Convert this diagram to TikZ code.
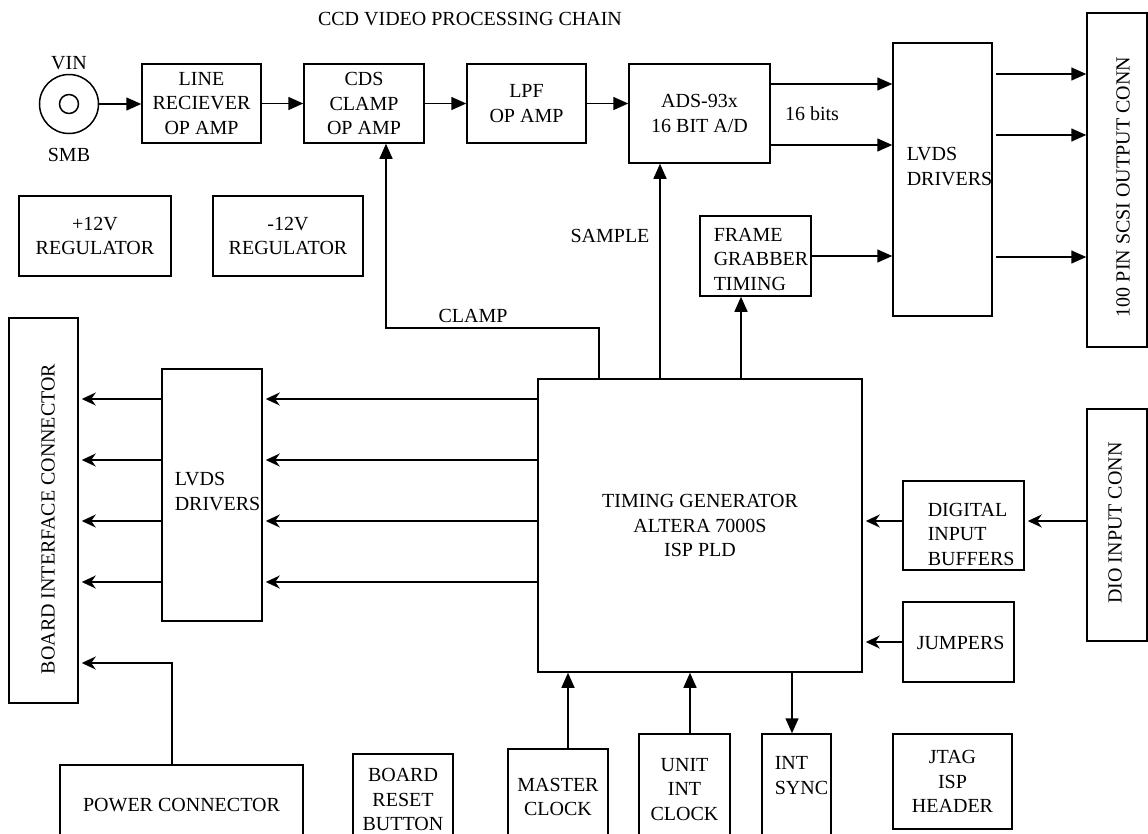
\documentclass[tikz,border=0pt]{standalone}
\usepackage{fontspec}
\setmainfont{Liberation Serif}
\usetikzlibrary{arrows.meta}
\newcommand{\blkfont}{\fontsize{20}{24.5}\selectfont}

\begin{document}
\begin{tikzpicture}[x=1pt, y=-1pt, line width=1.5pt,
    blk/.style={draw, inner sep=0pt, align=center, font=\blkfont},
    txt/.style={inner sep=0pt, align=left, font=\blkfont},
    tri/.style={-{Triangle[length=15pt, width=13pt]}},
    stl/.style={-{Stealth[length=14pt, width=13pt, inset=4.5pt]}, shorten >=3pt}]
  \useasboundingbox (0,0) rectangle (1148,833);
  \clip (0,0) rectangle (1148,833);

  \node[txt] (title) at (470,19) {CCD VIDEO PROCESSING CHAIN};

  \node[draw, circle, minimum size=59pt, inner sep=0pt] (vin) at (69,104) {};
  \node[draw, circle, minimum size=19pt, inner sep=0pt] (vinpin) at (69,104) {};
  \node[txt] (vintxt) at (69,63) {VIN};
  \node[txt] (smbtxt) at (69,155) {SMB};

  \node[blk, minimum width=119pt, minimum height=79pt] (line) at (201.5,103.5) {LINE\\RECIEVER\\OP AMP};
  \node[blk, minimum width=120pt, minimum height=79pt] (cds) at (364,103.5) {CDS\\CLAMP\\OP AMP};
  \node[blk, minimum width=119pt, minimum height=79pt] (lpf) at (526.5,103.5) {LPF\\OP AMP};
  \node[blk, minimum width=141pt, minimum height=99pt] (ads) at (699.5,113.5) {ADS-93x\\16 BIT A/D};
  \node[txt] (bitstxt) at (812,114) {16 bits};

  \node[blk, minimum width=152pt, minimum height=80pt] (regp) at (95,236) {+12V\\REGULATOR};
  \node[blk, minimum width=150pt, minimum height=80pt] (regn) at (288,236) {-12V\\REGULATOR};

  \node[blk, minimum width=99pt, minimum height=273pt] (lvdsr) at (942.5,179.5) {};
  \node[txt, anchor=west] (lvdsrtxt) at (906,166.5) {LVDS\\DRIVERS};
  \node[blk, minimum width=111pt, minimum height=80pt] (fg) at (755.5,256) {};
  \node[txt, anchor=west] (fgtxt) at (713,259) {FRAME\\GRABBER\\TIMING};
  \node[blk, minimum width=60pt, minimum height=334pt] (scsi) at (1117,180) {};
  \node[txt, rotate=90] (scsitxt) at (1123,187) {100 PIN SCSI OUTPUT CONN};
  \node[txt] (sampletxt) at (610,236) {SAMPLE};
  \node[txt] (clamptxt) at (473,316) {CLAMP};

  \node[blk, minimum width=69pt, minimum height=385pt] (bic) at (43.5,510.5) {};
  \node[txt, rotate=90] (bictxt) at (48,519) {BOARD INTERFACE CONNECTOR};
  \node[blk, minimum width=100pt, minimum height=252pt] (lvdsl) at (212,495) {};
  \node[txt, anchor=west] (lvdsltxt) at (174,491.5) {LVDS\\DRIVERS};
  \node[blk, minimum width=324pt, minimum height=293pt] (tg) at (700,525.5) {TIMING GENERATOR\\ALTERA 7000S\\ISP PLD};
  \node[blk, minimum width=121pt, minimum height=89pt] (dib) at (963.5,525.5) {};
  \node[txt, anchor=west] (dibtxt) at (927,534) {DIGITAL\\INPUT\\BUFFERS};
  \node[blk, minimum width=111pt, minimum height=80pt] (jump) at (958.5,642) {};
  \node[txt, anchor=west] (jumptxt) at (916,643) {JUMPERS};
  \node[blk, minimum width=60pt, minimum height=232pt] (dio) at (1117,525) {};
  \node[txt, rotate=90] (diotxt) at (1115,523) {DIO INPUT CONN};

  \node[blk, minimum width=243pt, minimum height=80pt] (pc) at (181.5,805) {POWER CONNECTOR};
  \node[blk, minimum width=100pt, minimum height=91pt] (reset) at (403,799.5) {BOARD\\RESET\\BUTTON};
  \node[blk, minimum width=100pt, minimum height=96pt] (master) at (558,797) {MASTER\\CLOCK};
  \node[blk, minimum width=91pt, minimum height=111pt] (unit) at (684.5,789.5) {UNIT\\INT\\CLOCK};
  \node[blk, minimum width=69pt, minimum height=111pt] (sync) at (796.5,789.5) {};
  \node[txt, anchor=west] (synctxt) at (774,775.5) {INT\\SYNC};
  \node[blk, minimum width=119pt, minimum height=95pt] (jtag) at (952.5,781.5) {JTAG\\ISP\\HEADER};

  \draw[tri] (vin.east) -- (vin.east -| line.west);
  \draw[tri] (line.east) -- (cds.west);
  \draw[tri] (cds.east) -- (lpf.west);
  \draw[tri] (lpf.east) -- (lpf.east -| ads.west);
  \foreach \y in {84,145}
    \draw[tri] (ads.east |- 0,\y) -- (lvdsr.west |- 0,\y);
  \draw[tri] (fg.east) -- (fg.east -| lvdsr.west);
  \foreach \y in {74,135,257}
    \draw[tri] ([xshift=3pt]lvdsr.east |- 0,\y) -- (scsi.west |- 0,\y);

  \coordinate (clampc) at (386,328);
  \draw[tri] (tg.north -| 599,0) |- (clampc) -- (clampc |- cds.south);
  \draw[tri] (tg.north -| 660,0) -- (ads.south -| 660,0);
  \draw[tri] (tg.north -| 741,0) -- (fg.south -| 741,0);

  \foreach \y in {399,460,521,582} {
    \draw[stl] (tg.west |- 0,\y) -- (lvdsl.east |- 0,\y);
    \draw[stl] (lvdsl.west |- 0,\y) -- (bic.east |- 0,\y);
  }
  \draw[stl] (pc.north -| 172,0) |- (bic.east |- 0,663);
  \draw[stl] (dio.west |- 0,521) -- (dib.east |- 0,521);
  \draw[stl] (dib.west |- 0,521) -- (tg.east |- 0,521);
  \draw[stl] (jump.west) -- (jump.west -| tg.east);

  \draw[tri] (master.north -| 568,0) -- (tg.south -| 568,0);
  \draw[tri] (unit.north -| 690,0) -- (tg.south -| 690,0);
  \draw[tri] (tg.south -| 792,0) -- (sync.north -| 792,0);
\end{tikzpicture}
\end{document}
